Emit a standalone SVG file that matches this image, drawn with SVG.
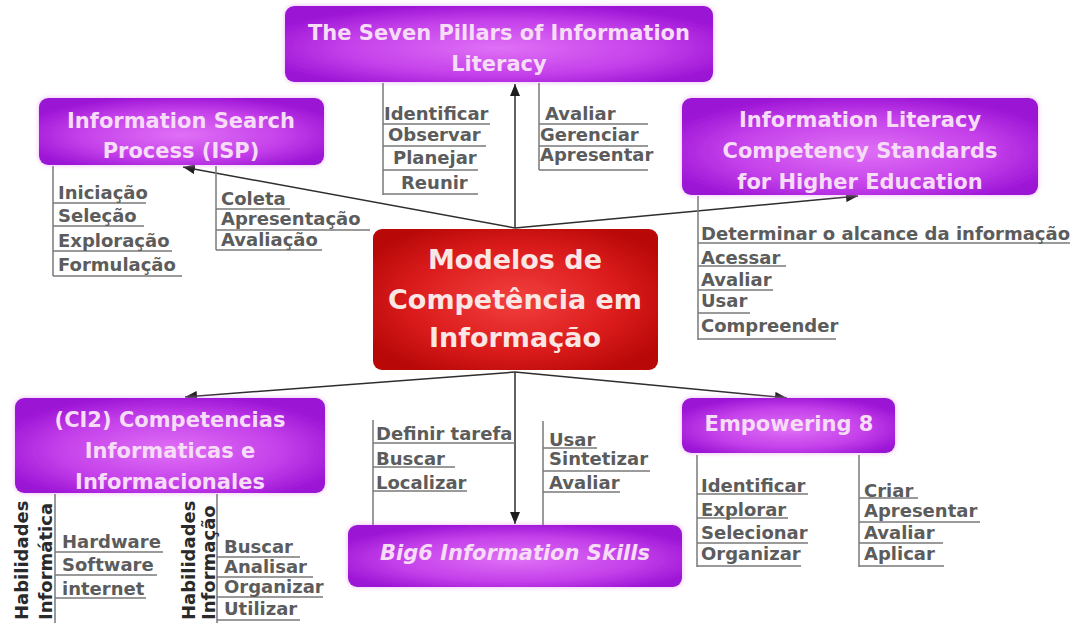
<svg xmlns="http://www.w3.org/2000/svg" width="1078" height="623" viewBox="0 0 1078 623">
<defs>
<radialGradient id="gP" cx="50%" cy="55%" r="60%">
<stop offset="0" stop-color="#e070f6"/>
<stop offset="0.6" stop-color="#c440ea"/>
<stop offset="1" stop-color="#9a12d4"/>
</radialGradient>
<radialGradient id="gR" cx="50%" cy="50%" r="60%">
<stop offset="0" stop-color="#f24040"/>
<stop offset="0.6" stop-color="#dc1c1c"/>
<stop offset="1" stop-color="#b80808"/>
</radialGradient>
<filter id="glow" x="-10%" y="-20%" width="120%" height="140%">
<feGaussianBlur in="SourceAlpha" stdDeviation="2.5" result="b"/>
<feFlood flood-color="#e9a0f0" flood-opacity="0.8"/>
<feComposite in2="b" operator="in" result="s"/>
<feMerge><feMergeNode in="s"/><feMergeNode in="SourceGraphic"/></feMerge>
</filter>
<marker id="arr" viewBox="0 0 12 10" refX="12" refY="5" markerWidth="12" markerHeight="10" markerUnits="userSpaceOnUse" orient="auto">
<path d="M0,0 L12,5 L0,10 z" fill="#1e1e1e"/>
</marker>
</defs>
<style>
.node{fill:url(#gP);filter:url(#glow)}
.title{font-family:"DejaVu Sans",sans-serif;font-weight:bold;font-size:21px;fill:#f7dcf7;text-anchor:middle}
.ctitle{font-family:"DejaVu Sans",sans-serif;font-weight:bold;font-size:27px;fill:#fbe6e6;text-anchor:middle}
.it{font-family:"DejaVu Sans",sans-serif;font-weight:bold;font-size:18px;fill:#5c5c5c}
.rot{font-family:"DejaVu Sans",sans-serif;font-weight:bold;font-size:18px;fill:#2a2a2a}
.ln{stroke:#7a7a7a;stroke-width:1.5;fill:none}
.con{stroke:#2e2e2e;stroke-width:1.5;fill:none;marker-end:url(#arr)}
</style>
<rect width="1078" height="623" fill="#ffffff"/>

<g id="connectors">
<line class="con" x1="515" y1="228" x2="515" y2="84"/>
<line class="con" x1="515" y1="228" x2="183" y2="167"/>
<line class="con" x1="515" y1="228" x2="858" y2="196"/>
<line class="con" x1="515" y1="372" x2="185" y2="397"/>
<line class="con" x1="515" y1="372" x2="515" y2="524"/>
<line class="con" x1="515" y1="372" x2="787" y2="398"/>
</g>

<g id="central">
<rect x="373" y="229" width="285" height="141" rx="9" fill="url(#gR)"/>
<text class="ctitle" x="515" y="269">Modelos de</text>
<text class="ctitle" x="515" y="309">Competência em</text>
<text class="ctitle" x="515" y="347">Informação</text>
</g>

<g id="seven-pillars">
<rect class="node" x="285" y="6" width="428" height="76" rx="9"/>
<text class="title" x="499" y="40">The Seven Pillars of Information</text>
<text class="title" x="499" y="71">Literacy</text>
<path class="ln" d="M383,83 V195 M383,124 H490 M383,146 H486 M383,170 H478 M383,194 H478"/>
<text class="it" x="384" y="120">Identificar</text>
<text class="it" x="388" y="141">Observar</text>
<text class="it" x="393" y="164">Planejar</text>
<text class="it" x="401" y="189">Reunir</text>
<path class="ln" d="M539,83 V170 M539,124 H648 M539,146 H648 M539,170 H648"/>
<text class="it" x="545" y="120">Avaliar</text>
<text class="it" x="540" y="141">Gerenciar</text>
<text class="it" x="540" y="161">Apresentar</text>
</g>

<g id="isp">
<rect class="node" x="39" y="98" width="285" height="67" rx="9"/>
<text class="title" x="181" y="128">Information Search</text>
<text class="title" x="181" y="158">Process (ISP)</text>
<path class="ln" d="M53,166 V276 M53,203 H146 M53,226 H144 M53,251 H172 M53,276 H182"/>
<text class="it" x="58" y="199">Iniciação</text>
<text class="it" x="58" y="222">Seleção</text>
<text class="it" x="58" y="247">Exploração</text>
<text class="it" x="58" y="271">Formulação</text>
<path class="ln" d="M216,166 V250 M216,209 H290 M216,230 H370 M216,250 H322"/>
<text class="it" x="221" y="205">Coleta</text>
<text class="it" x="221" y="225">Apresentação</text>
<text class="it" x="221" y="246">Avaliação</text>
</g>

<g id="ilcs">
<rect class="node" x="682" y="98" width="356" height="97" rx="9"/>
<text class="title" x="860" y="127">Information Literacy</text>
<text class="title" x="860" y="158">Competency Standards</text>
<text class="title" x="860" y="189">for Higher Education</text>
<path class="ln" d="M698,196 V340 M698,243 H1070 M698,266 H786 M698,290 H773 M698,313 H750 M698,339 H836"/>
<text class="it" x="701" y="240">Determinar o alcance da informação</text>
<text class="it" x="701" y="264">Acessar</text>
<text class="it" x="701" y="286">Avaliar</text>
<text class="it" x="701" y="307">Usar</text>
<text class="it" x="701" y="332">Compreender</text>
</g>

<g id="ci2">
<rect class="node" x="15" y="398" width="310" height="95" rx="9"/>
<text class="title" x="170" y="427">(CI2) Competencias</text>
<text class="title" x="170" y="458">Informaticas e</text>
<text class="title" x="170" y="489">Informacionales</text>
<path class="ln" d="M55,494 V623 M55,552 H163 M55,575 H157 M55,598 H146"/>
<text class="rot" transform="translate(28,620) rotate(-90)">Habilidades</text>
<text class="rot" transform="translate(52,620) rotate(-90)">Informática</text>
<text class="it" x="62" y="548">Hardware</text>
<text class="it" x="62" y="571">Software</text>
<text class="it" x="62" y="595">internet</text>
<path class="ln" d="M217,494 V623 M217,557 H300 M217,577 H313 M217,597 H323 M217,620 H300"/>
<text class="rot" transform="translate(195,620) rotate(-90)">Habilidades</text>
<text class="rot" transform="translate(215,620) rotate(-90)">Informação</text>
<text class="it" x="224" y="553">Buscar</text>
<text class="it" x="224" y="573">Analisar</text>
<text class="it" x="224" y="593">Organizar</text>
<text class="it" x="224" y="615">Utilizar</text>
</g>

<g id="big6">
<rect class="node" x="348" y="525" width="334" height="62" rx="9"/>
<text class="title" x="515" y="560" font-style="italic">Big6 Information Skills</text>
<path class="ln" d="M373,420 V525 M373,443 H515 M373,467 H455 M373,491 H467"/>
<text class="it" x="376" y="440">Definir tarefa</text>
<text class="it" x="376" y="465">Buscar</text>
<text class="it" x="376" y="489">Localizar</text>
<path class="ln" d="M543,421 V525 M543,448 H597 M543,471 H650 M543,492 H620"/>
<text class="it" x="549" y="446">Usar</text>
<text class="it" x="549" y="465">Sintetizar</text>
<text class="it" x="549" y="489">Avaliar</text>
</g>

<g id="empowering8">
<rect class="node" x="682" y="398" width="213" height="55" rx="9"/>
<text class="title" x="789" y="431">Empowering 8</text>
<path class="ln" d="M697,455 V567 M697,494 H808 M697,518 H788 M697,543 H808 M697,566 H801"/>
<text class="it" x="701" y="492">Identificar</text>
<text class="it" x="701" y="516">Explorar</text>
<text class="it" x="701" y="539">Selecionar</text>
<text class="it" x="701" y="560">Organizar</text>
<path class="ln" d="M859,455 V567 M859,498 H918 M859,522 H980 M859,543 H943 M859,566 H944"/>
<text class="it" x="864" y="497">Criar</text>
<text class="it" x="864" y="517">Apresentar</text>
<text class="it" x="864" y="539">Avaliar</text>
<text class="it" x="864" y="560">Aplicar</text>
</g>
</svg>
